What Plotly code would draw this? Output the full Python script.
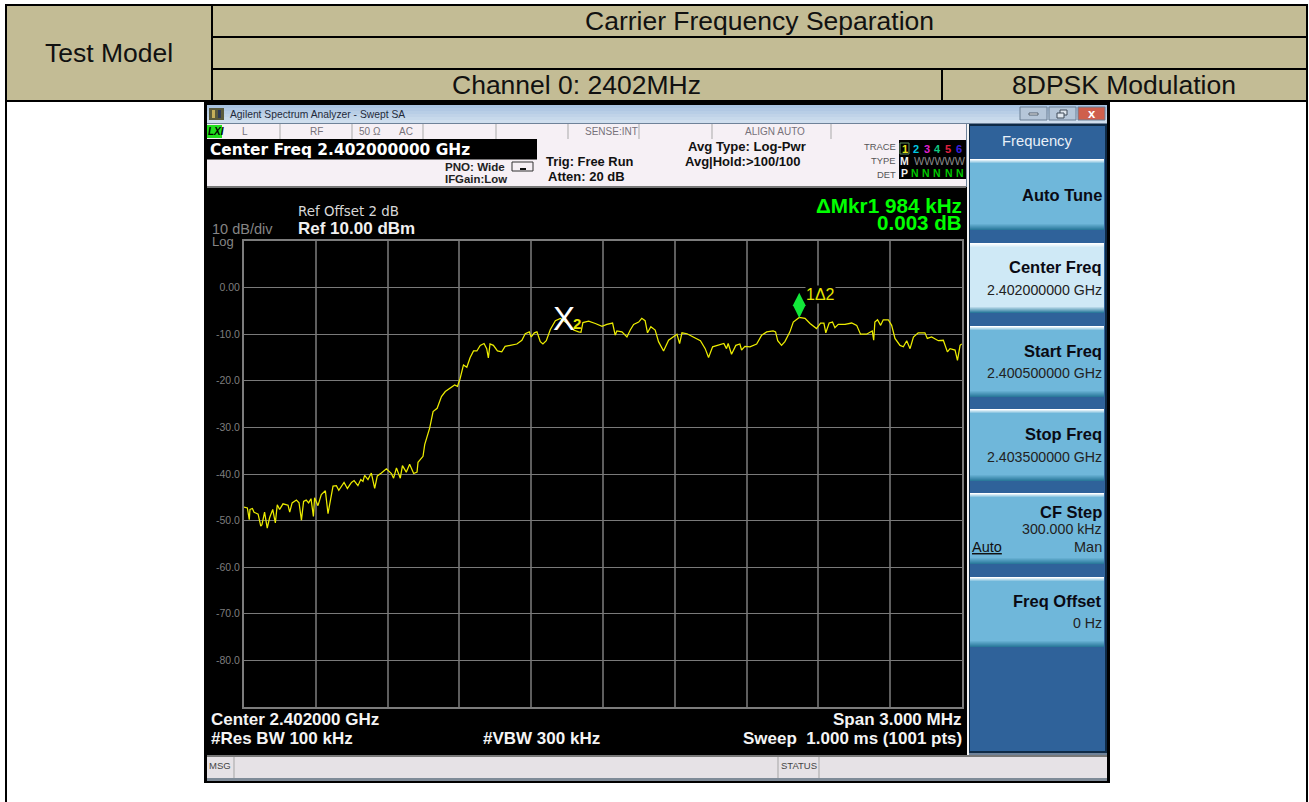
import plotly.graph_objects as go

W, H = 1309, 802

# ---- data -----------------------------------------------------------
span_offset_khz = [0,14,22,25,35,42,59,70,75,86,97,107,120,131,139,149,163,184,191,201,219,230,240,249,260,270,280,290,295,309,323,340,351,362,372,386,396,418,432,449,460,476,488,497,504,518,532,546,557,574,595,616,625,637,653,662,678,692,709,723,727,748,755,776,790,807,825,841,859,880,892,
 903,917,931,945,959,973,987,1003,1014,1021,1028,1042,1059,1077,1091,1112,1140,1161,1175,1192,1200,1213,1224,1238,1249,1263,1280,1301,1322,1349,1377,1398,1408,1416,1440,1468,1496,1516,1540,1551,1558,1579,1600,1614,1628,1649,1662,1676,1686,1700,1718,1732,1753,1774,1795,1809,1820,1830,1851,1879,1907,1927,1941,
 1958,1975,1995,2005,2016,2023,2037,2055,2072,2079,2093,2114,2142,2163,2184,2211,2221,2230,2246,2260,2281,2295,2320,2344,2365,2392,2409,2423,2431,2445,2459,2469,2483,2511,2539,2560,2576,2601,2625,2631,2636,2647,2660,2671,2692,2706,2720,2741,2755,2769,2783,2797,2817,2845,2855,2873,2901,2922,2939,2950,2971,2981,2992,2999]
level_dbm = [-47.1,-47.3,-49.8,-47.6,-47.4,-48.2,-48.6,-51.2,-50.9,-48.2,-51.6,-49.4,-47.6,-50.5,-46.6,-47.6,-46.4,-46.7,-48.2,-46.2,-45.6,-46.2,-49.9,-45.9,-45.6,-46.2,-45.3,-49.1,-45.1,-46.8,-44.4,-43.6,-48.5,-45.5,-42.6,-42.5,-43.5,-41.8,-43.1,-41.8,-41.4,-42.5,-41.2,-41.6,-40.3,-41.2,-39.8,-43.1,-40.4,-39.8,-38.9,-39.9,-40.9,-38.7,-40.9,-38.2,-39.6,-37.9,-39.9,-39.6,-37.5,-36.2,-33.7,-30.1,-26.6,-25.9,-23.4,-22.3,-21.6,-20.9,-21.2,
 -19.5,-16.6,-17.1,-15.0,-13.6,-13.6,-12.4,-12.0,-13.1,-15.1,-12.1,-12.4,-13.6,-13.8,-12.6,-12.4,-12.1,-11.3,-9.9,-9.5,-10.6,-9.7,-9.5,-11.6,-12.1,-11.4,-9.0,-7.1,-6.6,-7.6,-9.1,-9.5,-9.6,-7.5,-7.2,-7.7,-8.3,-7.9,-7.6,-10.2,-9.3,-9.5,-10.6,-9.1,-7.9,-7.4,-6.6,-7.1,-9.7,-8.4,-9.1,-11.6,-13.6,-11.3,-10.6,-10.0,-12.0,-9.7,-9.9,-10.6,-11.4,-13.1,-15.0,
 -12.7,-12.4,-12.1,-12.0,-13.1,-12.0,-14.3,-12.4,-12.1,-13.4,-12.6,-12.7,-12.1,-10.2,-9.5,-9.3,-9.5,-11.4,-12.4,-11.6,-9.5,-7.4,-6.4,-6.6,-7.7,-8.8,-7.6,-7.6,-9.7,-7.6,-7.4,-8.6,-7.9,-7.9,-7.6,-8.1,-10.0,-10.0,-9.3,-11.3,-7.4,-6.9,-8.1,-6.9,-6.9,-8.1,-10.9,-12.4,-12.7,-11.4,-13.1,-10.6,-9.7,-9.7,-10.9,-10.6,-11.4,-11.3,-13.8,-13.1,-13.4,-15.6,-12.4,-12.1]
marker_1_khz, marker_1_dbm = [2320], [-3.8]
marker_2_khz, marker_2_dbm = 1336, -6.6
grid_khz = [300,600,900,1200,1500,1800,2100,2400,2700]
level_ticks = [0,-10,-20,-30,-40,-50,-60,-70,-80]
level_labels = ["0.00","-10.0","-20.0","-30.0","-40.0","-50.0","-60.0","-70.0","-80.0"]

header_title = "Carrier Frequency Separation"
header_left = "Test Model"
header_channel = "Channel 0: 2402MHz"
header_mod = "8DPSK Modulation"

softkeys = [
    (159, 230, "#6fb7da", "Auto Tune", None, 195, None),
    (243, 313, "#cfe9f6", "Center Freq", "2.402000000 GHz", 267, 290),
    (326, 397, "#6fb7da", "Start Freq", "2.400500000 GHz", 351, 373),
    (409, 481, "#6fb7da", "Stop Freq", "2.403500000 GHz", 434, 457),
    (493, 564, "#6fb7da", "CF Step", "300.000 kHz", 512, 529),
    (577, 647, "#6fb7da", "Freq Offset", "0 Hz", 601, 623),
]

# ---- helpers (page-pixel layout) -------------------------------------
px = lambda x: x / W
py = lambda y: 1 - y / H
shapes, notes = [], []
FONT = "Liberation Sans"
WIDE = "DejaVu Sans"
NARROW = "Liberation Sans Narrow, Liberation Sans"

def rect(x0, y0, x1, y1, fill=None, line=None, lw=1):
    shapes.append(dict(type="rect", xref="paper", yref="paper", layer="below",
                       x0=px(x0), x1=px(x1), y0=py(y1), y1=py(y0),
                       fillcolor=fill if fill else "rgba(0,0,0,0)",
                       line=dict(color=line, width=lw) if line else dict(width=0)))

def hline(x0, x1, y, color="#000", lw=1):
    shapes.append(dict(type="line", xref="paper", yref="paper", layer="below",
                       x0=px(x0), x1=px(x1), y0=py(y), y1=py(y), line=dict(color=color, width=lw)))

def vline(x, y0, y1, color="#000", lw=1):
    shapes.append(dict(type="line", xref="paper", yref="paper", layer="below",
                       x0=px(x), x1=px(x), y0=py(y0), y1=py(y1), line=dict(color=color, width=lw)))

def txt(x, y, s, size=12, color="#000", anchor="left", bold=False, font=FONT, bg=None):
    notes.append(dict(xref="paper", yref="paper", x=px(x), y=py(y), showarrow=False,
                      text=f"<b>{s}</b>" if bold else s, xanchor=anchor, yanchor="middle",
                      borderpad=0, borderwidth=0, bgcolor=bg,
                      font=dict(family=font, size=size, color=color)))

def mix(a, b, t):
    ca = [int(a[i:i+2], 16) for i in (1, 3, 5)]
    cb = [int(b[i:i+2], 16) for i in (1, 3, 5)]
    return "#%02x%02x%02x" % tuple(round(p + (q - p) * t) for p, q in zip(ca, cb))

# ---- table header ----------------------------------------------------
TAN = "#c3bc95"
rect(6, 5, 1307, 101, fill=TAN)
for y in (5, 37, 69, 101):
    hline(212 if y in (37, 69) else 6, 1307, y, lw=2)
vline(6, 4, 802, lw=2)
vline(1307, 4, 802, lw=2)
vline(212, 5, 101, lw=2)
vline(942, 69, 101, lw=2)
TS = 26.5
txt(109, 53, header_left, TS, "#111", "center")
txt(759, 21, header_title, TS, "#111", "center")
txt(576, 85, header_channel, TS, "#111", "center")
txt(1124, 85, header_mod, TS, "#111", "center")

# ---- analyzer window -------------------------------------------------
rect(204, 101, 1110, 783, fill="#000000")
rect(207, 105, 1107, 780, fill="#6f8299")
rect(207, 187, 967, 755, fill="#000000")
for i in range(6):
    rect(207, 105 + i * 3, 1107, 108 + i * 3, fill=mix("#a9c3e0", "#cfdeee", i / 5))
rect(209, 108, 224, 120, fill="#5b5b3c")
rect(212, 110, 215, 118, fill="#c7b05a")
rect(218, 110, 221, 118, fill="#2f3a57")
txt(230, 114, "Agilent Spectrum Analyzer - Swept SA", 10.3, "#1f2a3a")
# window buttons
for x0, x1, c in ((1020, 1047, "#b5c6d9"), (1049, 1076, "#b5c6d9"), (1078, 1105, "#cf5f4c")):
    rect(x0, 107, x1, 120, fill=c, line="#6b7f94")
rect(1029, 113, 1038, 115, fill="#f2f5f8", line="#55606e")
rect(1060, 110, 1067, 115, fill="#dfe7ef", line="#3e4a58")
rect(1057, 113, 1064, 118, fill="#dfe7ef", line="#3e4a58")
txt(1091.5, 113.5, "<b>x</b>", 13, "#ffffff", "center")

# status strip
rect(207, 124, 966, 139, fill="#f6f0f5")
for x in (280, 352, 423, 496, 568, 639, 712, 831):
    vline(x, 124, 139, "#a9a9a9", 1)
rect(207, 125, 222, 138, fill="#22e01e")
txt(208, 131.5, "<b><i>LXI</i></b>", 10, "#000")
for x, s in ((245, "L"), (316, "RF"), (370, "50 Ω"), (406, "AC"), (611, "SENSE:INT"), (775, "ALIGN AUTO")):
    txt(x, 131, s, 10, "#77727a", "center")
rect(207, 139, 966, 186, fill="#f6f0f5")
rect(207, 139, 537, 159.5, fill="#000000")
hline(207, 966, 187, "#777777", 2)
txt(210, 149.5, "Center Freq 2.402000000 GHz", 15.4, "#fff", bold=True, font=WIDE)
txt(505, 166, "PNO: Wide", 11.6, "#222", "right", bold=True)
txt(507, 179, "IFGain:Low", 11.4, "#222", "right", bold=True)
shapes.append(dict(type="rect", xref="paper", yref="paper", layer="below",
                   x0=px(512), x1=px(533), y0=py(171), y1=py(162),
                   fillcolor="rgba(0,0,0,0)", line=dict(color="#333", width=1)))
rect(520, 168, 526, 170, fill="#111")
txt(546, 161, "Trig: Free Run", 12.9, "#111", bold=True)
txt(548, 177, "Atten: 20 dB", 13, "#111", bold=True)
txt(688, 147, "Avg Type: Log-Pwr", 13.1, "#111", bold=True)
txt(685, 161, "Avg|Hold:>100/100", 13, "#111", bold=True)
for y, s in ((146, "TRACE"), (160, "TYPE"), (174, "DET")):
    txt(896, y, s, 9.4, "#555", "right")
rect(899, 140, 966, 179, fill="#000000")
rect(900, 143, 909, 154, line="#5f8f5f")
for x, s, c in ((904.5, "1", "#e4e41c"), (916, "2", "#00c8e0"), (927, "3", "#e020d0"),
                (937, "4", "#10c880"), (948, "5", "#e02040"), (959, "6", "#3a20e0")):
    txt(x, 148.5, s, 11, c, "center", bold=True)
txt(905, 160.5, "M", 10.5, "#f0f0f0", "center", bold=True)
txt(939.5, 160.5, "WWWWW", 10.8, "#8a8a8a", "center")
txt(905, 173, "P", 10.5, "#f0f0f0", "center", bold=True)
for x in (915, 926, 937, 949, 960):
    txt(x, 173, "N", 10.5, "#00c800", "center", bold=True)

# screen texts
txt(962, 205, "ΔMkr1 984 kHz", 20.7, "#00ff00", "right", bold=True)
txt(962, 223, "0.003 dB", 20.6, "#00ff00", "right", bold=True)
txt(298, 212, "Ref Offset 2 dB", 13.4, "#d8d8d8", font=WIDE)
txt(298, 228, "Ref 10.00 dBm", 17, "#f0f0f0", bold=True)
txt(212, 228.5, "10 dB/div", 14.5, "#858585")
txt(212, 241, "Log", 13, "#858585")
txt(211, 719, "Center 2.402000 GHz", 17, "#f4f4f4", bold=True)
txt(962, 719, "Span 3.000 MHz", 17, "#f4f4f4", "right", bold=True)
txt(211, 738, "#Res BW 100 kHz", 17, "#f4f4f4", bold=True)
txt(483, 738, "#VBW 300 kHz", 17, "#f4f4f4", bold=True)
txt(962, 738, "Sweep&nbsp;&nbsp;1.000 ms (1001 pts)", 17, "#f4f4f4", "right", bold=True)

# softkey panel
rect(967, 124, 969, 755, fill="#f4f4f4")
rect(969, 124, 1107, 753, fill="#0f2a46")
rect(970, 126, 1105, 751, fill="#2f629a")
txt(1037, 141, "Frequency", 14.8, "#e8f0f8", "center")
for y0, y1, c, title, sub, ty, sy in softkeys:
    rect(970, y0, 1104, y1, fill=c)
    for i in range(5):
        rect(970, y0 + i, 1104, y0 + i + 1, fill=mix("#ffffff", c, i / 4))
    for i in range(7):
        rect(970, y1 - 7 + i, 1104, y1 - 6 + i, fill=mix(c, "#2b7a9c", i / 6))
    txt(1101.5, ty, title, 16.5, "#0a0a14", "right", bold=True)
    if sub:
        txt(1101.5, sy, sub, 14.2, "#222", "right")
txt(972, 547, "<u>Auto</u>", 14.5, "#111")
txt(1101.5, 547, "Man", 14.5, "#222", "right")

# message bar
rect(207, 755, 1107, 757, fill="#777777")
rect(207, 757, 1107, 778, fill="#e6e2e6")
rect(207, 778, 1107, 781, fill="#7f8b98")
vline(234, 757, 778, "#a5a5a5")
vline(778, 757, 778, "#a5a5a5")
vline(819, 757, 778, "#a5a5a5")
txt(208.5, 765, "MSG", 9.5, "#444")
txt(780.5, 765, "STATUS", 9.5, "#444")

# ---- the spectrum ----------------------------------------------------
fig = go.Figure()
fig.add_trace(go.Scatter(x=span_offset_khz, y=level_dbm, mode="lines",
                         line=dict(color="#ecec00", width=1.25), hoverinfo="skip"))
fig.add_trace(go.Scatter(x=marker_1_khz, y=marker_1_dbm, mode="markers",
                         marker=dict(symbol="diamond-tall", size=18, color="#12e83a", line=dict(width=0)),
                         hoverinfo="skip"))
notes.append(dict(xref="x", yref="y", x=2320, y=marker_1_dbm[0], xshift=21, yshift=11, showarrow=False,
                  text="1Δ2", bgcolor="#000000", borderpad=0,
                  font=dict(family=FONT, size=16, color="#e6e600")))
notes.append(dict(xref="x", yref="y", x=marker_2_khz, y=marker_2_dbm, showarrow=False,
                  text="X", font=dict(family=NARROW, size=33, color="#ffffff")))
notes.append(dict(xref="x", yref="y", x=marker_2_khz, y=marker_2_dbm, xshift=13, yshift=-5, showarrow=False,
                  text="<b>2</b>", font=dict(family=FONT, size=15, color="#e6e600")))

fig.update_layout(
    width=W, height=H, margin=dict(l=0, r=0, t=0, b=0), showlegend=False,
    paper_bgcolor="#ffffff", plot_bgcolor="#000000", shapes=shapes, annotations=notes,
    xaxis=dict(domain=[px(244), px(962)], range=[0, 3000], tickvals=grid_khz, showticklabels=False,
               showgrid=True, gridcolor="#5e5e5e", gridwidth=1.5, zeroline=False, ticks="",
               showline=True, mirror=True, linecolor="#7c7c7c", linewidth=2),
    yaxis=dict(domain=[py(707), py(241)], range=[-90, 10], tickvals=level_ticks, ticktext=level_labels,
               showgrid=True, gridcolor="#7a7a7a", gridwidth=1, zeroline=False, ticks="",
               tickfont=dict(family=FONT, size=10.5, color="#7e7e7e"),
               showline=True, mirror=True, linecolor="#7c7c7c", linewidth=2),
)
fig.write_html("out.html", config=dict(displayModeBar=False),
               post_script="document.body.style.margin='0';document.body.style.overflow='hidden';")
